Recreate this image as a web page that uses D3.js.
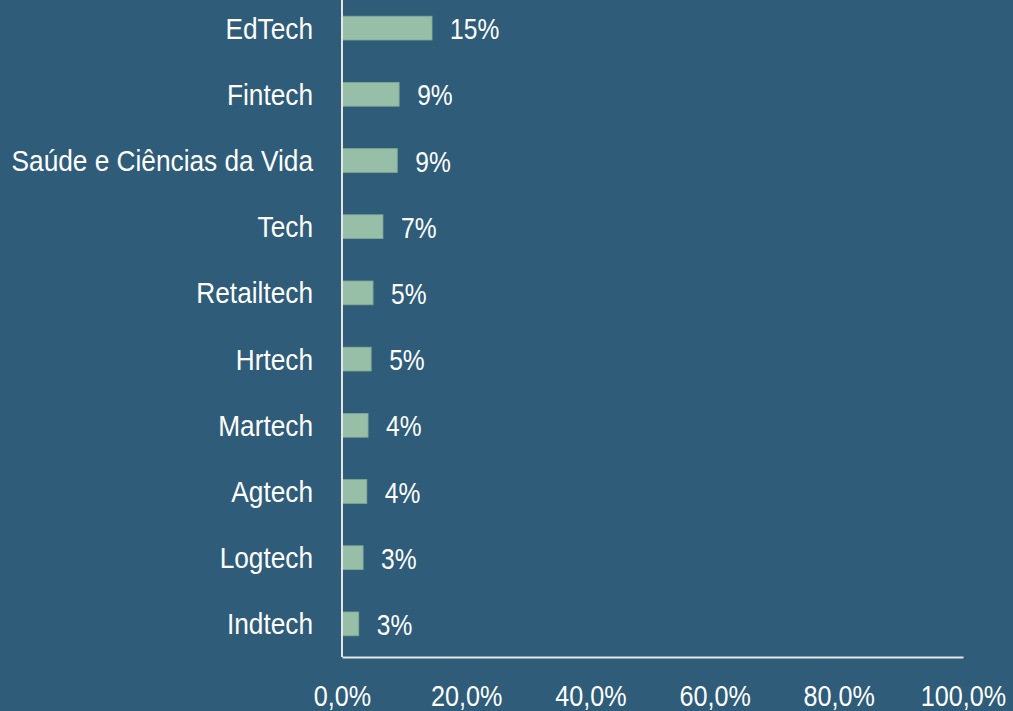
<!DOCTYPE html>
<html>
<head>
<meta charset="utf-8">
<script src="https://cdn.jsdelivr.net/npm/d3@7"></script>
<style>
  body { margin: 0; background: #2E5C79; }
  svg text { font-family: "Liberation Sans Narrow", "Arial Narrow", "Liberation Sans", Arial, sans-serif; fill: #ffffff; }
</style>
</head>
<body>
<svg id="chart" width="1013" height="711"></svg>
<script>
// dados do grafico
var setores = ["EdTech", "Fintech", "Saúde e Ciências da Vida", "Tech", "Retailtech",
    "Hrtech", "Martech", "Agtech", "Logtech", "Indtech"];
var valores = [14.5, 9.2, 8.9, 6.6, 5.0, 4.7, 4.2, 4.0, 3.4, 2.7];
var rotulos = ["15%", "9%", "9%", "7%", "5%", "5%", "4%", "4%", "3%", "3%"];
var ticks_x = [0, 20, 40, 60, 80, 100];

// fonte estreita (Arial Narrow nao existe aqui) -> compressao horizontal
var estreito = 0.875;

let svg = d3.select("#chart");

let x = d3.scaleLinear()
    .domain([0, 100])
    .range([342, 963]);

let y = d3.scaleBand()
    .domain(setores)
    .range([-5, 657])
    .paddingInner(0.64)
    .paddingOuter(0.32);

let data = setores.map((s, i) => ({setor: s, valor: valores[i], rotulo: rotulos[i]}));

svg.selectAll(".bar")
    .data(data)
    .enter().append("rect")
    .attr("class", "bar")
    .attr("x", x(0))
    .attr("y", d => y(d.setor))
    .attr("width", d => x(d.valor) - x(0))
    .attr("height", y.bandwidth())
    .attr("fill", "#97BFA8")
    .attr("stroke", "#7FA894")
    .attr("stroke-width", 0.8);

svg.selectAll(".val")
    .data(data)
    .enter().append("text")
    .attr("class", "val")
    .attr("transform", d => "translate(" + (x(d.valor) + 18) + "," + (y(d.setor) + y.bandwidth() / 2 + 11) + ") scale(0.82,1)")
    .attr("font-size", 30)
    .text(d => d.rotulo);

// eixo y (rotulos das categorias)
svg.selectAll(".cat")
    .data(setores)
    .enter().append("text")
    .attr("class", "cat")
    .attr("transform", d => "translate(313," + (y(d) + y.bandwidth() / 2 + 10.5) + ") scale(" + estreito + ",1)")
    .attr("text-anchor", "end")
    .attr("font-size", 30)
    .text(d => d);

// eixo x
let xAxis = d3.axisBottom(x)
    .tickValues(ticks_x)
    .tickSize(0)
    .tickFormat(d => d.toFixed(1).replace(".", ",") + "%");

let gx = svg.append("g")
    .attr("transform", "translate(0,657)")
    .call(xAxis);
gx.select(".domain").attr("stroke", "#E6E6E6").attr("stroke-width", 2);
gx.selectAll("text")
    .attr("y", 0)
    .attr("dy", null)
    .attr("transform", "translate(0,48.5) scale(0.84,1)")
    .attr("font-size", 30)
    .attr("fill", "#ffffff");

svg.append("line")
    .attr("x1", x(0)).attr("x2", x(0))
    .attr("y1", 0).attr("y2", 657)
    .attr("stroke", "#E6E6E6")
    .attr("stroke-width", 2);
</script>
</body>
</html>
